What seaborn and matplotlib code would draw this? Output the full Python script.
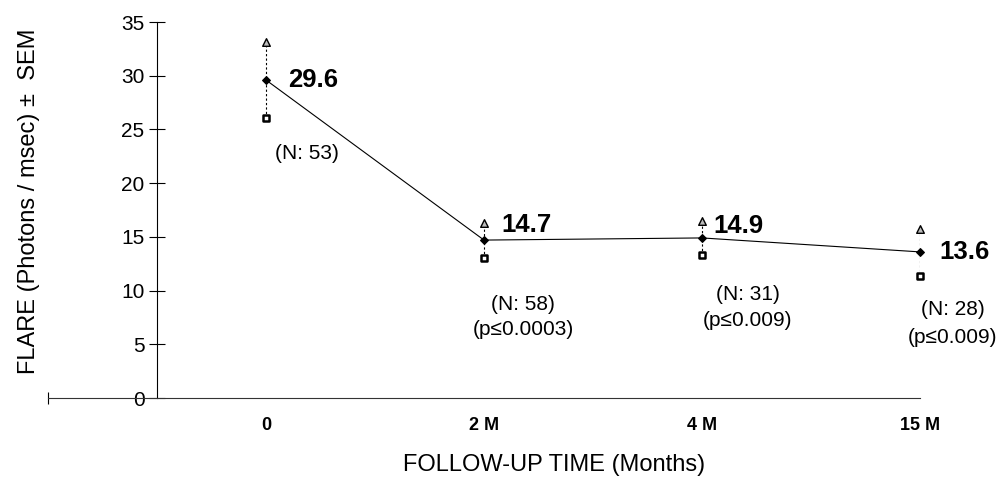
import numpy as np
import pandas as pd
import matplotlib
matplotlib.use("Agg")
import matplotlib.pyplot as plt
import seaborn as sns

# values
times = ["0", "2 M", "4 M", "15 M"]
flare_mean = [29.6, 14.7, 14.9, 13.6]
flare_upper = [33.1, 16.3, 16.5, 15.7]
flare_lower = [26.1, 13.0, 13.3, 11.4]
mean_labels = ["29.6", "14.7", "14.9", "13.6"]
n_labels = ["(N: 53)", "(N: 58)", "(N: 31)", "(N: 28)"]
p_labels = ["", "(p≤0.0003)", "(p≤0.009)", "(p≤0.009)"]

sns.set_theme(style="white", rc={"text.color": "black", "axes.labelcolor": "black",
                                 "xtick.color": "black", "ytick.color": "black"})
plt.rcParams["font.family"] = ["Liberation Sans", "DejaVu Sans"]

df = pd.DataFrame({"pos": np.arange(len(times)), "mean": flare_mean,
                   "upper": flare_upper, "lower": flare_lower})

fig = plt.figure(figsize=(10.02, 4.78), dpi=100)
ax = fig.add_axes([48 / 1002, 80 / 478, 872 / 1002, 376 / 478])

# dashed SEM bars
ax.vlines(df["pos"], df["lower"], df["upper"], colors="black",
          linestyles=(0, (2, 2)), linewidth=0.8, zorder=2)

sns.lineplot(data=df, x="pos", y="mean", ax=ax, color="black", linewidth=0.8,
             marker="D", markersize=4.5, markeredgecolor="black", zorder=3,
             clip_on=False)
sns.scatterplot(data=df, x="pos", y="upper", ax=ax, marker="^", s=30,
                color="#bbbbbb", edgecolor="black", linewidth=1.0, zorder=4,
                clip_on=False)
sns.scatterplot(data=df, x="pos", y="lower", ax=ax, marker="s", s=22,
                color="white", edgecolor="black", linewidth=1.8, zorder=4,
                clip_on=False)

ax.set_xlim(-1, 3)
ax.set_ylim(0, 35)

for side in ["top", "right"]:
    ax.spines[side].set_visible(False)
ax.spines["left"].set_position(("data", -0.5))
ax.spines["left"].set_linewidth(0.8)
ax.spines["bottom"].set_linewidth(0.8)
ax.spines["left"].set_color("black")
ax.spines["bottom"].set_color("#333333")

ax.set_yticks(range(0, 36, 5))
ax.tick_params(axis="y", direction="inout", length=12, width=0.8, labelsize=15,
               left=True, pad=3)
ax.set_xticks(df["pos"])
ax.set_xticklabels(times, fontweight="bold", fontsize=13)
ax.tick_params(axis="x", length=0, pad=14)
ax.set_xticks([-1, 1, 2, 3], minor=True)
ax.tick_params(axis="x", which="minor", direction="inout", length=8, width=0.8,
               bottom=True)

ax.set_xlabel("")
ax.set_ylabel("FLARE (Photons / msec) ±  SEM", fontsize=17)
ax.yaxis.set_label_coords(-0.009, 0.524)
fig.text(554 / 1002, 13 / 478, "FOLLOW-UP TIME (Months)", fontsize=17,
         ha="center", va="center")

label_dx = [0.1, 0.08, 0.05, 0.09]
label_dy = [0.0, 1.4, 1.1, 0.0]
n_dx = [0.19, 0.18, 0.21, 0.15]
n_y = [22.8, 8.7, 9.6, 8.2]
p_gap = [0, 2.35, 2.35, 2.6]
for i, row in df.iterrows():
    ax.text(row["pos"] + label_dx[i], row["mean"] + label_dy[i], mean_labels[i],
            fontsize=18.5, fontweight="bold", va="center", ha="left", clip_on=False)
    ax.text(row["pos"] + n_dx[i], n_y[i], n_labels[i], fontsize=15,
            ha="center", va="center", clip_on=False)
    if p_labels[i]:
        ax.text(row["pos"] + n_dx[i], n_y[i] - p_gap[i], p_labels[i], fontsize=15,
                ha="center", va="center", clip_on=False)

fig.savefig("out.png", dpi=100)
